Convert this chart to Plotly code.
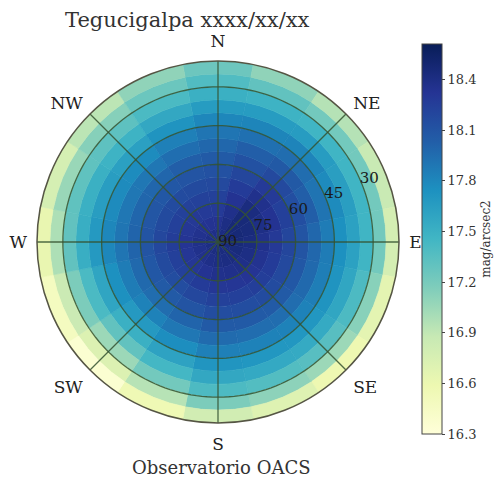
import plotly.graph_objects as go

# Sky brightness (mag/arcsec2)
# azimuth bearings (deg, 0 = N, clockwise)
azimuths = [0, 22.5, 45, 67.5, 90, 112.5, 135, 157.5,
            180, 202.5, 225, 247.5, 270, 292.5, 315, 337.5]
# zenith-distance ring edges (deg): altitude = 90 - zenith distance
ring_inner = [0, 5, 10, 15, 20, 25, 30, 35, 40, 45, 50, 55, 60, 65]
ring_size = 5
# values per azimuth, from zenith outwards
brightness = [
    [18.38, 18.33, 18.28, 18.23, 18.18, 18.12, 18.06, 17.98, 17.90, 17.80, 17.66, 17.50, 17.38, 17.25],  # N
    [18.41, 18.40, 18.37, 18.33, 18.27, 18.20, 18.12, 18.03, 17.93, 17.81, 17.66, 17.48, 17.30, 17.10],  # NNE
    [18.45, 18.46, 18.45, 18.42, 18.36, 18.28, 18.18, 18.07, 17.95, 17.82, 17.66, 17.46, 17.22, 16.95],  # NE
    [18.45, 18.46, 18.44, 18.39, 18.33, 18.24, 18.14, 18.03, 17.91, 17.78, 17.64, 17.46, 17.22, 16.86],  # ENE
    [18.45, 18.45, 18.42, 18.36, 18.29, 18.20, 18.10, 17.98, 17.86, 17.74, 17.62, 17.46, 17.22, 16.78],  # E
    [18.44, 18.44, 18.40, 18.34, 18.27, 18.18, 18.08, 17.97, 17.85, 17.72, 17.58, 17.40, 17.13, 16.66],  # ESE
    [18.43, 18.42, 18.38, 18.32, 18.25, 18.16, 18.06, 17.95, 17.83, 17.70, 17.55, 17.35, 17.05, 16.58],  # SE
    [18.42, 18.41, 18.37, 18.31, 18.24, 18.15, 18.06, 17.95, 17.83, 17.70, 17.56, 17.37, 17.11, 16.70],  # SSE
    [18.42, 18.40, 18.36, 18.30, 18.23, 18.15, 18.06, 17.96, 17.84, 17.71, 17.57, 17.40, 17.18, 16.80],  # S
    [18.41, 18.38, 18.33, 18.27, 18.19, 18.10, 18.00, 17.89, 17.76, 17.61, 17.44, 17.22, 16.94, 16.56],  # SSW
    [18.40, 18.36, 18.30, 18.23, 18.15, 18.06, 17.95, 17.83, 17.68, 17.50, 17.30, 17.05, 16.72, 16.36],  # SW
    [18.40, 18.36, 18.31, 18.24, 18.17, 18.08, 17.97, 17.86, 17.74, 17.59, 17.41, 17.18, 16.85, 16.48],  # WSW
    [18.40, 18.37, 18.32, 18.26, 18.19, 18.10, 18.00, 17.90, 17.80, 17.68, 17.52, 17.30, 16.98, 16.62],  # W
    [18.39, 18.35, 18.30, 18.24, 18.17, 18.09, 17.99, 17.89, 17.78, 17.65, 17.50, 17.31, 17.06, 16.77],  # WNW
    [18.38, 18.34, 18.29, 18.23, 18.16, 18.08, 17.99, 17.89, 17.77, 17.63, 17.48, 17.32, 17.14, 16.92],  # NW
    [18.38, 18.33, 18.28, 18.23, 18.17, 18.10, 18.03, 17.94, 17.84, 17.72, 17.57, 17.41, 17.26, 17.10],  # NNW
]

cbar_ticks = [16.3, 16.6, 16.9, 17.2, 17.5, 17.8, 18.1, 18.4]
compass_vals = [0, 45, 90, 135, 180, 225, 270, 315]
compass_text = ["N", "NE", "E", "SE", "S", "SW", "W", "NW"]
alt_vals = [0, 15, 30, 45, 60]
alt_text = ["90", "75", "60", "45", "30"]
alt_label_bearing = 66
r_max = 70

ylgnbu = [[0.0, "#ffffd9"], [0.125, "#edf8b1"], [0.25, "#c7e9b4"], [0.375, "#7fcdbb"],
          [0.5, "#41b6c4"], [0.625, "#1d91c0"], [0.75, "#225ea8"], [0.875, "#253494"],
          [1.0, "#081d58"]]
cmin, cmax = 16.3, 18.61

thetas, bases, rs, vals = [], [], [], []
for az, row in zip(azimuths, brightness):
    for b, v in zip(ring_inner, row):
        thetas.append(az)
        bases.append(b)
        rs.append(ring_size)
        vals.append(v)

font_family = "DejaVu Serif"
# page body has an 8px margin; work in reference pixel coords
OFF = 8
W, H = 503 - OFF, 481 - OFF
def px(x):
    return (x - OFF) / W
def py(y):
    return 1 - (y - OFF) / H

cx, cy, rad = 218, 242, 181

fig = go.Figure()
fig.add_trace(go.Barpolar(
    r=rs, base=bases, theta=thetas, width=[22.5] * len(thetas),
    marker=dict(
        color=vals, colorscale=ylgnbu, cmin=cmin, cmax=cmax,
        line=dict(color=vals, colorscale=ylgnbu, cmin=cmin, cmax=cmax, width=0.6),
        colorbar=dict(
            x=px(422), xanchor="left", xpad=0,
            y=py(44), yanchor="top", ypad=0,
            len=390 / H, lenmode="fraction", thickness=20,
            outlinewidth=1, outlinecolor="#444",
            tickvals=cbar_ticks, ticktext=[f"{t:.1f}" for t in cbar_ticks],
            ticks="outside", ticklen=3, tickcolor="#444",
            tickfont=dict(family=font_family, size=13, color="#333"),
            title=dict(text="mag/arcsec2", side="right",
                       font=dict(family=font_family, size=12, color="#333")),
        ),
    ),
    hoverinfo="skip",
))

grid_col = "rgba(52,82,48,0.85)"
# ring grid lines (altitude circles)
circle_theta = list(range(0, 361, 2))
for rv in alt_vals[1:]:
    fig.add_trace(go.Scatterpolar(
        r=[rv] * len(circle_theta), theta=circle_theta, mode="lines",
        line=dict(color=grid_col, width=1.3), hoverinfo="skip", showlegend=False))
# spokes at compass directions
for tv in compass_vals:
    fig.add_trace(go.Scatterpolar(
        r=[0, r_max], theta=[tv, tv], mode="lines",
        line=dict(color=grid_col, width=1.3), hoverinfo="skip", showlegend=False))
# altitude labels
fig.add_trace(go.Scatterpolar(
    r=alt_vals, theta=[alt_label_bearing] * len(alt_vals), mode="text",
    text=alt_text, textposition="middle right",
    textfont=dict(family=font_family, size=15, color="#1a1a1a"),
    hoverinfo="skip", showlegend=False))

fig.update_layout(
    width=W, height=H,
    margin=dict(l=0, r=0, t=0, b=0),
    paper_bgcolor="white", plot_bgcolor="white",
    showlegend=False,
    bargap=0,
    polar=dict(
        domain=dict(x=[px(cx - rad), px(cx + rad)],
                    y=[py(cy + rad), py(cy - rad)]),
        bgcolor="white",
        barmode="overlay",
        angularaxis=dict(
            rotation=90, direction="clockwise",
            tickmode="array", tickvals=compass_vals, ticktext=compass_text,
            ticks="outside", ticklen=6, tickcolor="rgba(0,0,0,0)",
            showline=True, linecolor="#555544", linewidth=1.5,
            showgrid=False,
            tickfont=dict(family=font_family, size=17, color="#222"),
        ),
        radialaxis=dict(
            range=[0, r_max], angle=22.5,
            tickmode="array", tickvals=alt_vals,
            ticks="", showline=False, showgrid=False, showticklabels=False,
        ),
    ),
    annotations=[
        dict(text="Tegucigalpa xxxx/xx/xx", x=px(187), y=py(20),
             xanchor="center", yanchor="middle",
             xref="paper", yref="paper", showarrow=False,
             font=dict(family=font_family, size=21, color="#333")),
        dict(text="Observatorio OACS", x=px(221), y=py(467),
             xanchor="center", yanchor="middle",
             xref="paper", yref="paper", showarrow=False,
             font=dict(family=font_family, size=18, color="#333")),
    ],
)

fig.write_html("out.html")
